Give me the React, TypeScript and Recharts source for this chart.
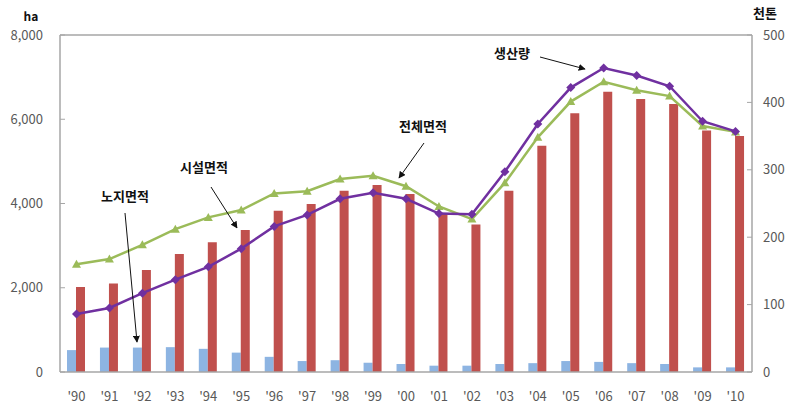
import { ComposedChart, Bar, Line, XAxis, YAxis, ReferenceLine } from 'recharts';

const years = ["'90", "'91", "'92", "'93", "'94", "'95", "'96", "'97", "'98", "'99", "'00",
    "'01", "'02", "'03", "'04", "'05", "'06", "'07", "'08", "'09", "'10"];

// 노지면적 (ha)
const openField = [520, 580, 580, 590, 550, 460, 360, 260, 280, 220, 190, 150, 150, 190, 210, 260, 240, 210, 190, 110, 110];
// 시설면적 (ha)
const greenhouse = [2020, 2100, 2420, 2800, 3080, 3370, 3830, 3990, 4300, 4440, 4225, 3770, 3500, 4300, 5370, 6140, 6650, 6480, 6360, 5730, 5600];
// 전체면적 (ha)
const totalArea = [2560, 2680, 3020, 3390, 3670, 3845, 4240, 4290, 4580, 4660, 4410, 3930, 3630, 4490, 5570, 6420, 6890, 6690, 6550, 5840, 5700];
// 생산량 (천톤)
const production = [86, 95, 117, 137, 156, 183, 216, 233, 257, 266, 257, 235, 234, 297, 368, 422, 451, 440, 424, 372, 357];

const leftTicks = [0, 2000, 4000, 6000, 8000];
const rightTicks = [0, 100, 200, 300, 400, 500];

const data = years.map((year, i) => ({
    year,
    openField: openField[i],
    greenhouse: greenhouse[i],
    totalArea: totalArea[i],
    production: production[i],
}));

const FONT = '"Noto Sans CJK KR", "Noto Sans", sans-serif';
const AXIS = '#a6a6a6';
const tickStyle = { fontSize: 13, fill: '#595959', fontFamily: FONT };

const Triangle = (props: any) => {
    const { cx, cy, index } = props;
    if (cx == null || cy == null) return null;
    return <path key={`t-${index}`} d={`M${cx},${cy - 4.5} L${cx + 4.5},${cy + 3.5} L${cx - 4.5},${cy + 3.5} Z`} fill="#9bbb59" />;
};

const Diamond = (props: any) => {
    const { cx, cy, index } = props;
    if (cx == null || cy == null) return null;
    return <path key={`d-${index}`} d={`M${cx},${cy - 4.5} L${cx + 4.5},${cy} L${cx},${cy + 4.5} L${cx - 4.5},${cy} Z`} fill="#7030a0" />;
};

const fmt = (v: number) => v.toLocaleString('en-US');

const labelStyle: any = { fontFamily: FONT, fontWeight: 700, fontSize: 13, fill: '#111' };

export default function App() {
    return (
        <div style={{ position: 'fixed', left: 0, top: 0, width: 800, height: 414, background: '#fff' }}>
            <ComposedChart
                width={800}
                height={414}
                data={data}
                margin={{ top: 35, right: 0, bottom: 0, left: 0 }}
                barGap={0}
            >
                <XAxis
                    dataKey="year"
                    height={42}
                    axisLine={{ stroke: AXIS, strokeWidth: 1.5 }}
                    tickLine={false}
                    tick={tickStyle}
                    tickMargin={14}
                    interval={0}
                />
                <YAxis
                    yAxisId="left"
                    width={60}
                    domain={[0, 8000]}
                    ticks={leftTicks}
                    tickFormatter={fmt}
                    axisLine={{ stroke: AXIS, strokeWidth: 1.5 }}
                    tickLine={{ stroke: AXIS }}
                    tickSize={-5}
                    tickMargin={22}
                    tick={tickStyle}
                />
                <YAxis
                    yAxisId="right"
                    orientation="right"
                    width={48}
                    domain={[0, 500]}
                    ticks={rightTicks}
                    axisLine={{ stroke: AXIS, strokeWidth: 1.5 }}
                    tickLine={{ stroke: AXIS }}
                    tickSize={-5}
                    tickMargin={16}
                    tick={tickStyle}
                />
                <ReferenceLine yAxisId="left" y={8000} stroke={AXIS} strokeWidth={1.5} />
                <Bar yAxisId="left" dataKey="openField" fill="#8db4e2" barSize={9} isAnimationActive={false} />
                <Bar yAxisId="left" dataKey="greenhouse" fill="#c0504d" barSize={9} isAnimationActive={false} />
                <Line
                    yAxisId="left"
                    type="linear"
                    dataKey="totalArea"
                    stroke="#9bbb59"
                    strokeWidth={2.5}
                    dot={Triangle}
                    activeDot={false}
                    isAnimationActive={false}
                />
                <Line
                    yAxisId="right"
                    type="linear"
                    dataKey="production"
                    stroke="#7030a0"
                    strokeWidth={2.5}
                    dot={Diamond}
                    activeDot={false}
                    isAnimationActive={false}
                />
            </ComposedChart>

            {/* unit labels and annotations */}
            <svg width={800} height={414} style={{ position: 'absolute', left: 0, top: 0, pointerEvents: 'none' }}>
                <defs>
                    <marker id="arrow" viewBox="0 0 10 10" refX="9" refY="5" markerWidth="7" markerHeight="7" orient="auto">
                        <path d="M0,0 L10,5 L0,10 Z" fill="#111" />
                    </marker>
                </defs>
                <text x={31} y={21} textAnchor="middle" style={{ ...labelStyle, fontSize: 12 }}>ha</text>
                <text x={765} y={18} textAnchor="middle" style={labelStyle}>천톤</text>

                <text x={125} y={201} textAnchor="middle" style={labelStyle}>노지면적</text>
                <line x1={125} y1={213} x2={137} y2={342} stroke="#111" strokeWidth={1} markerEnd="url(#arrow)" />

                <text x={204} y={172} textAnchor="middle" style={labelStyle}>시설면적</text>
                <line x1={211} y1={187} x2={237} y2={228} stroke="#111" strokeWidth={1} markerEnd="url(#arrow)" />

                <text x={423} y={131} textAnchor="middle" style={labelStyle}>전체면적</text>
                <line x1={424} y1={143} x2={399} y2={178} stroke="#111" strokeWidth={1} markerEnd="url(#arrow)" />

                <text x={512} y={58} textAnchor="middle" style={labelStyle}>생산량</text>
                <line x1={540} y1={57} x2={585} y2={69} stroke="#111" strokeWidth={1} markerEnd="url(#arrow)" />
            </svg>
        </div>
    );
}
